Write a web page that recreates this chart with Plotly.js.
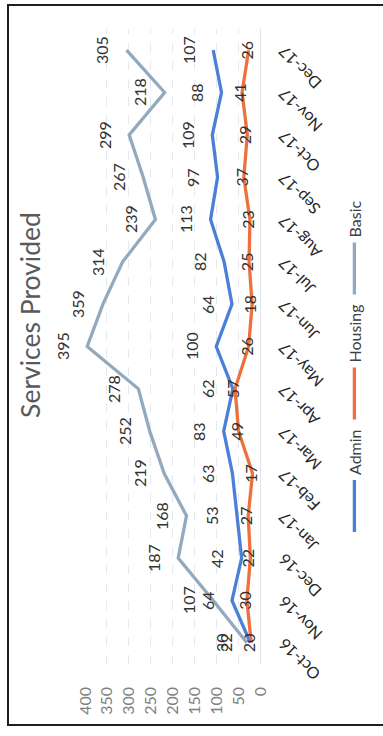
<!DOCTYPE html>
<html>
<head>
<meta charset="utf-8">
<script src="https://cdn.plot.ly/plotly-3.0.1.min.js"></script>
<style>
  html, body { margin: 0; padding: 0; background: #fff; width: 383px; height: 736px; overflow: hidden; }
  /* chart is laid out landscape and turned a quarter-turn counter-clockwise */
  #chart { position: absolute; left: 0; top: 0; width: 736px; height: 383px;
           transform-origin: 0 0; transform: rotate(-90deg) translateX(-736px); }
  #frame { position: absolute; left: 7px; top: 4px; width: 400px; height: 722px;
           border: 2px solid #1e1e1e; box-sizing: border-box; pointer-events: none; }
</style>
</head>
<body>
<div id="chart"></div>
<div id="frame"></div>
<script>
// monthly counts of services provided, by type
const months = ['Oct-16','Nov-16','Dec-16','Jan-17','Feb-17','Mar-17','Apr-17','May-17',
                'Jun-17','Jul-17','Aug-17','Sep-17','Oct-17','Nov-17','Dec-17'];
const admin   = [22, 64, 42, 53, 63, 83, 62, 100, 64, 82, 113, 97, 109, 88, 107];
const housing = [20, 30, 22, 27, 17, 49, 57, 26, 18, 25, 23, 37, 29, 41, 26];
const basic   = [30, 107, 187, 168, 219, 252, 278, 395, 359, 314, 239, 267, 299, 218, 305];

const FONT = 'Lato, "Open Sans", sans-serif';
const labelFont = {family: FONT, size: 16, color: '#333333'};

const traces = [
  {name: 'Admin', x: months, y: admin, mode: 'lines',
   line: {color: '#4a80d8', width: 3.3}},
  {name: 'Housing', x: months, y: housing, mode: 'lines+text',
   text: housing.map(String), textposition: 'middle center', textfont: labelFont,
   line: {color: '#f0703c', width: 3.3}},
  {name: 'Basic', x: months, y: basic, mode: 'lines',
   line: {color: '#93a9be', width: 3.3}}
];

// value labels sitting above the Admin and Basic lines
const annotations = [];
[admin, basic].forEach(vals => {
  vals.forEach((v, i) => {
    annotations.push({x: months[i], y: v, text: String(v), showarrow: false,
                      yshift: 25, font: labelFont});
  });
});

const layout = {
  width: 736, height: 383,
  margin: {l: 72, r: 29, t: 85, b: 121},
  paper_bgcolor: '#ffffff', plot_bgcolor: '#ffffff',
  title: {text: 'Services Provided', font: {family: FONT, size: 26.5, color: '#595959'},
          x: 0.572, xref: 'container', xanchor: 'center',
          y: 0.92, yref: 'container', yanchor: 'middle'},
  xaxis: {type: 'category', range: [-0.5, 14.5], tickangle: -45,
          tickfont: {family: FONT, size: 16, color: '#262626'},
          showgrid: false, showline: false, ticks: '', ticklabelstandoff: 11},
  yaxis: {range: [0, 400], dtick: 50, tickfont: {family: FONT, size: 16, color: '#7f7f7f'},
          gridcolor: '#e4e9ef', griddash: 'dash', zeroline: true, zerolinecolor: '#dfe4ea',
          showline: false, ticks: '', ticklabelstandoff: 22},
  legend: {orientation: 'h', x: 0.2, xanchor: 'left', y: -0.54, yanchor: 'middle',
           itemwidth: 52, font: {family: FONT, size: 16, color: '#404040'}},
  annotations: annotations
};

Plotly.newPlot('chart', traces, layout, {staticPlot: true, displayModeBar: false});
</script>
</body>
</html>
